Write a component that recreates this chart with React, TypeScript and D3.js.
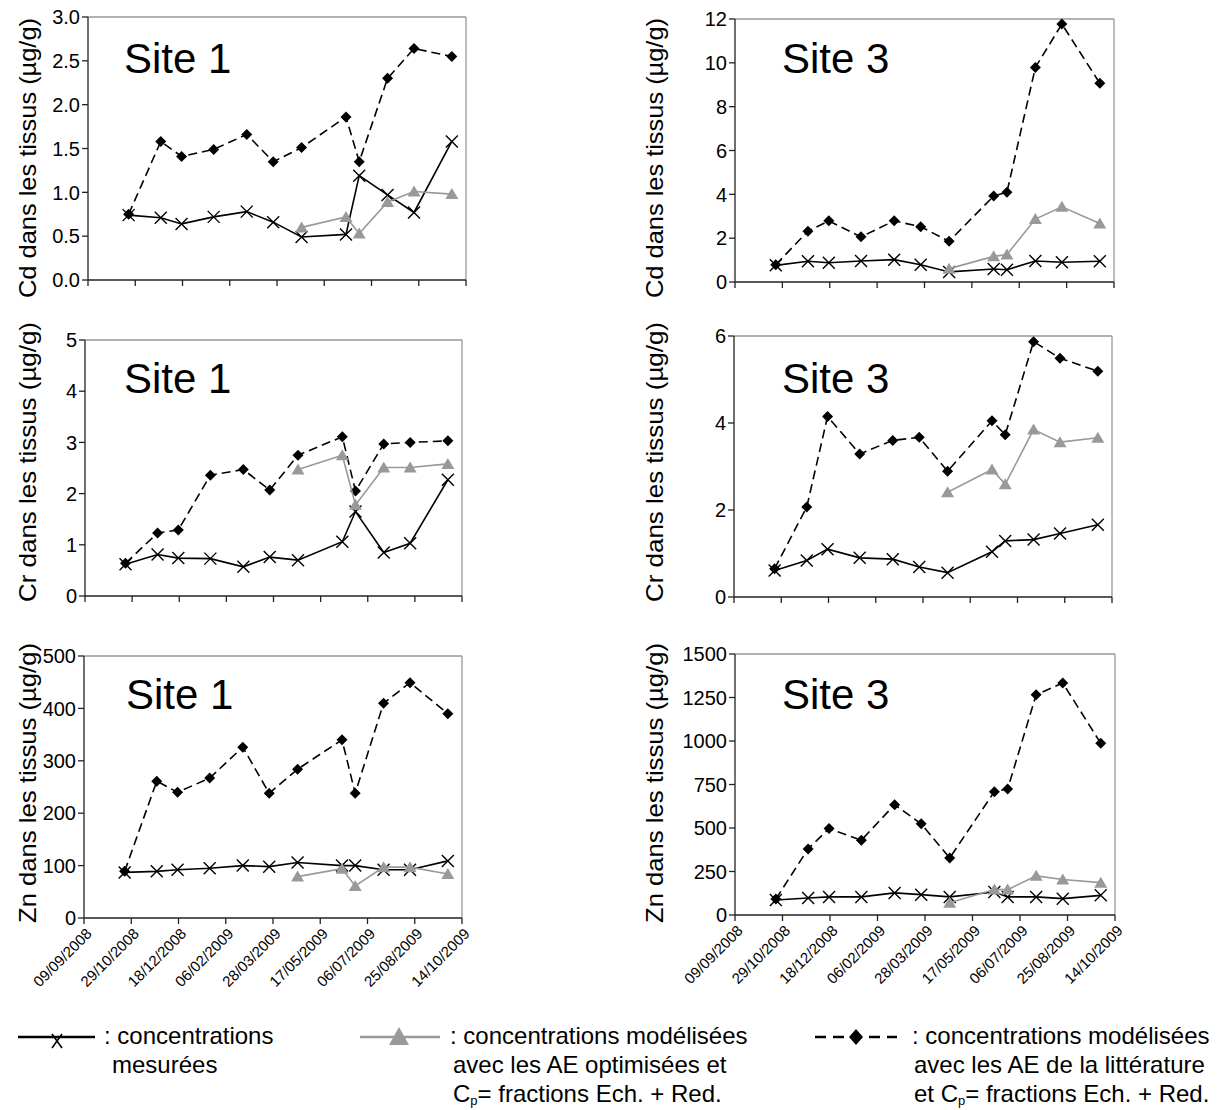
import React from "react";
import * as d3 from "d3";

// ---------- data ----------
const xTickLabels = [
  "09/09/2008", "29/10/2008", "18/12/2008", "06/02/2009", "28/03/2009",
  "17/05/2009", "06/07/2009", "25/08/2009", "14/10/2009",
];
const sampleDates = [
  "22/10/2008", "25/11/2008", "17/12/2008", "20/01/2009", "24/02/2009", "24/03/2009",
  "23/04/2009", "09/06/2009", "23/06/2009", "23/07/2009", "20/08/2009", "29/09/2009",
];

const cdSite1Measured = [0.74, 0.71, 0.64, 0.72, 0.78, 0.66, 0.49, 0.52, 1.19, 0.97, 0.77, 1.58];
const cdSite1Opt = [null, null, null, null, null, null, 0.6, 0.72, 0.53, 0.89, 1.01, 0.98];
const cdSite1Lit = [0.75, 1.58, 1.41, 1.49, 1.66, 1.35, 1.51, 1.86, 1.35, 2.3, 2.64, 2.55];

const cdSite3Measured = [0.76, 0.95, 0.88, 0.96, 1.02, 0.79, 0.46, 0.59, 0.56, 0.96, 0.9, 0.95];
const cdSite3Opt = [null, null, null, null, null, null, 0.61, 1.17, 1.25, 2.87, 3.43, 2.67];
const cdSite3Lit = [0.79, 2.32, 2.79, 2.06, 2.79, 2.52, 1.86, 3.92, 4.1, 9.79, 11.77, 9.07];

const crSite1Measured = [0.62, 0.81, 0.74, 0.73, 0.57, 0.76, 0.7, 1.06, 1.65, 0.85, 1.03, 2.27];
const crSite1Opt = [null, null, null, null, null, null, 2.47, 2.75, 1.78, 2.51, 2.51, 2.58];
const crSite1Lit = [0.64, 1.23, 1.29, 2.36, 2.47, 2.07, 2.75, 3.11, 2.05, 2.97, 3.0, 3.03];

const crSite3Measured = [0.61, 0.84, 1.1, 0.9, 0.87, 0.69, 0.56, 1.04, 1.29, 1.32, 1.46, 1.66];
const crSite3Opt = [null, null, null, null, null, null, 2.41, 2.93, 2.59, 3.85, 3.56, 3.66];
const crSite3Lit = [0.65, 2.07, 4.15, 3.29, 3.6, 3.67, 2.89, 4.05, 3.73, 5.87, 5.49, 5.19];

const znSite1Measured = [87, 89, 92, 95, 100, 98, 106, 100, 100, 92, 92, 109];
const znSite1Opt = [null, null, null, null, null, null, 79, 94, 61, 97, 97, 84];
const znSite1Lit = [89, 261, 240, 267, 326, 238, 284, 340, 238, 410, 449, 390];

const znSite3Measured = [86, 98, 104, 104, 127, 117, 104, 132, 104, 104, 94, 113];
const znSite3Opt = [null, null, null, null, null, null, 71, 146, 146, 225, 204, 186];
const znSite3Lit = [92, 380, 497, 430, 634, 524, 328, 709, 724, 1266, 1333, 987];

const cdSite1Ticks = [0, 0.5, 1, 1.5, 2, 2.5, 3];
const cdSite3Ticks = [0, 2, 4, 6, 8, 10, 12];
const crSite1Ticks = [0, 1, 2, 3, 4, 5];
const crSite3Ticks = [0, 2, 4, 6];
const znSite1Ticks = [0, 100, 200, 300, 400, 500];
const znSite3Ticks = [0, 250, 500, 750, 1000, 1250, 1500];

const legendLabels = [
  [": concentrations", "mesurées"],
  [": concentrations modélisées", "avec les AE optimisées et", "= fractions Ech. + Red."],
  [": concentrations modélisées", "avec les AE de la littérature", "= fractions Ech. + Red."],
];

// ---------- helpers ----------
const parse = d3.utcParse("%d/%m/%Y");
const xTickDates = xTickLabels.map((s) => parse(s) as Date);
const dates = sampleDates.map((s) => parse(s) as Date);

const FONT = "'Liberation Sans', Arial, sans-serif";
const GRAY = "#999999";

const xMarker = "M-6,-6L6,6M-6,6L6,-6";
const diamond = "M0,-5.5L5.5,0L0,5.5L-5.5,0Z";
const triangle = "M0,-6L6.5,5L-6.5,5Z";

type Box = { l: number; r: number; t: number; b: number };

function Panel(props: {
  box: Box;
  ticks: number[];
  fmt: (v: number) => string;
  yTitle: string;
  site: string;
  measured: (number | null)[];
  opt: (number | null)[];
  lit: (number | null)[];
  showX: boolean;
  titleX: number;
  titleY: number;
  siteX: number;
  siteY: number;
}) {
  const { box, ticks, fmt, yTitle, site, measured, opt, lit, showX, titleX, titleY, siteX, siteY } = props;
  const x = d3.scaleUtc().domain([xTickDates[0], xTickDates[xTickDates.length - 1]]).range([box.l, box.r]);
  const y = d3.scaleLinear().domain([0, ticks[ticks.length - 1]]).range([box.b, box.t]);
  const pts = (vals: (number | null)[]) =>
    vals.map((v, i) => ({ d: dates[i], v })).filter((p) => p.v != null) as { d: Date; v: number }[];
  const line = d3
    .line<{ d: Date; v: number }>()
    .x((p) => x(p.d))
    .y((p) => y(p.v));
  const m = pts(measured);
  const o = pts(opt);
  const li = pts(lit);
  return (
    <g>
      {/* frame */}
      <line x1={box.l} x2={box.r} y1={box.t} y2={box.t} stroke={GRAY} strokeWidth={1.3} />
      <line x1={box.r} x2={box.r} y1={box.t} y2={box.b} stroke={GRAY} strokeWidth={1.3} />
      <line x1={box.l} x2={box.l} y1={box.t} y2={box.b} stroke="#222" strokeWidth={1.3} />
      <line x1={box.l} x2={box.r} y1={box.b} y2={box.b} stroke="#222" strokeWidth={1.3} />
      {/* y ticks */}
      {ticks.map((t) => (
        <g key={"y" + t}>
          <line x1={box.l - 6} x2={box.l} y1={y(t)} y2={y(t)} stroke="#222" strokeWidth={1.3} />
          <text x={box.l - 8} y={y(t)} dy="0.36em" textAnchor="end" fontSize={20} fontFamily={FONT}>
            {fmt(t)}
          </text>
        </g>
      ))}
      {/* x ticks */}
      {xTickDates.map((d, i) => (
        <g key={"x" + i}>
          <line x1={x(d)} x2={x(d)} y1={box.b} y2={box.b + 6} stroke="#222" strokeWidth={1.3} />
          {showX && (
            <text
              transform={`translate(${x(d) + 5},${box.b + 13}) rotate(-45)`}
              textAnchor="end"
              dy="0.35em"
              fontSize={15}
              fontFamily={FONT}
            >
              {xTickLabels[i]}
            </text>
          )}
        </g>
      ))}
      {/* y title */}
      <text
        transform={`translate(${titleX},${titleY}) rotate(-90)`}
        textAnchor="middle"
        dy="0.35em"
        fontSize={24}
        fontFamily={FONT}
        textLength={280}
        lengthAdjust="spacingAndGlyphs"
      >
        {yTitle}
      </text>
      {/* site label */}
      <text x={siteX} y={siteY} fontSize={42} fontFamily={FONT}>
        {site}
      </text>
      {/* series */}
      <path d={line(m) || ""} fill="none" stroke="#000" strokeWidth={1.6} />
      {m.map((p, i) => (
        <path key={"m" + i} d={xMarker} transform={`translate(${x(p.d)},${y(p.v)})`} stroke="#000" strokeWidth={1.4} fill="none" />
      ))}
      <path d={line(li) || ""} fill="none" stroke="#000" strokeWidth={1.6} strokeDasharray="9,5" />
      {li.map((p, i) => (
        <path key={"l" + i} d={diamond} transform={`translate(${x(p.d)},${y(p.v)})`} fill="#000" />
      ))}
      <path d={line(o) || ""} fill="none" stroke={GRAY} strokeWidth={1.6} />
      {o.map((p, i) => (
        <path key={"o" + i} d={triangle} transform={`translate(${x(p.d)},${y(p.v)})`} fill={GRAY} />
      ))}
    </g>
  );
}

const f1 = d3.format(".1f");
const f0 = d3.format("d");

function Legend() {
  const ly = 1037;
  const lh = 29;
  const textStyle = { fontSize: 24, fontFamily: FONT } as const;
  const base = ly + 7;
  return (
    <g>
      {/* measured */}
      <line x1={18} x2={95} y1={ly} y2={ly} stroke="#000" strokeWidth={2.5} />
      <path d="M-5,-3L5,11M-5,11L5,-3" transform={`translate(57,${ly})`} stroke="#000" strokeWidth={1.6} />
      <text x={104} y={base} {...textStyle}>{legendLabels[0][0]}</text>
      <text x={112} y={base + lh} {...textStyle}>{legendLabels[0][1]}</text>
      {/* optimised */}
      <line x1={360} x2={440} y1={ly} y2={ly} stroke={GRAY} strokeWidth={2.5} />
      <path d="M0,-10L10,8L-10,8Z" transform={`translate(399,${ly})`} fill={GRAY} />
      <text x={450} y={base} {...textStyle}>{legendLabels[1][0]}</text>
      <text x={453} y={base + lh} {...textStyle}>{legendLabels[1][1]}</text>
      <text x={453} y={base + 2 * lh} {...textStyle}>
        C<tspan fontSize={13} dy={3}>p</tspan>
        <tspan dy={-3}>{legendLabels[1][2]}</tspan>
      </text>
      {/* literature */}
      <line x1={815} x2={897} y1={ly} y2={ly} stroke="#000" strokeWidth={2.5} strokeDasharray="11,7" />
      <path d="M0,-8L7,0L0,8L-7,0Z" transform={`translate(856,${ly})`} fill="#000" />
      <text x={912} y={base} {...textStyle}>{legendLabels[2][0]}</text>
      <text x={914} y={base + lh} {...textStyle}>{legendLabels[2][1]}</text>
      <text x={914} y={base + 2 * lh} {...textStyle}>
        et C<tspan fontSize={13} dy={3}>p</tspan>
        <tspan dy={-3}>{legendLabels[2][2]}</tspan>
      </text>
    </g>
  );
}

export default function App() {
  return (
    <svg
      width={1231}
      height={1110}
      style={{ position: "absolute", left: 0, top: 0, background: "#fff" }}
    >
      <Panel box={{ l: 88, r: 466, t: 17, b: 280 }} ticks={cdSite1Ticks} fmt={f1} yTitle="Cd dans les tissus (µg/g)" site="Site 1"
        measured={cdSite1Measured} opt={cdSite1Opt} lit={cdSite1Lit} showX={false} titleX={28} titleY={158} siteX={124} siteY={73} />
      <Panel box={{ l: 735, r: 1114, t: 19, b: 282 }} ticks={cdSite3Ticks} fmt={f0} yTitle="Cd dans les tissus (µg/g)" site="Site 3"
        measured={cdSite3Measured} opt={cdSite3Opt} lit={cdSite3Lit} showX={false} titleX={655} titleY={158} siteX={782} siteY={73} />
      <Panel box={{ l: 85, r: 462, t: 340, b: 596 }} ticks={crSite1Ticks} fmt={f0} yTitle="Cr dans les tissus (µg/g)" site="Site 1"
        measured={crSite1Measured} opt={crSite1Opt} lit={crSite1Lit} showX={false} titleX={28} titleY={462} siteX={124} siteY={393} />
      <Panel box={{ l: 734, r: 1112, t: 336, b: 597 }} ticks={crSite3Ticks} fmt={f0} yTitle="Cr dans les tissus (µg/g)" site="Site 3"
        measured={crSite3Measured} opt={crSite3Opt} lit={crSite3Lit} showX={false} titleX={655} titleY={462} siteX={782} siteY={393} />
      <Panel box={{ l: 84, r: 462, t: 656, b: 918 }} ticks={znSite1Ticks} fmt={f0} yTitle="Zn dans les tissus (µg/g)" site="Site 1"
        measured={znSite1Measured} opt={znSite1Opt} lit={znSite1Lit} showX={true} titleX={28} titleY={783} siteX={126} siteY={709} />
      <Panel box={{ l: 735, r: 1115, t: 654, b: 915 }} ticks={znSite3Ticks} fmt={f0} yTitle="Zn dans les tissus (µg/g)" site="Site 3"
        measured={znSite3Measured} opt={znSite3Opt} lit={znSite3Lit} showX={true} titleX={655} titleY={783} siteX={782} siteY={709} />
      <Legend />
    </svg>
  );
}
